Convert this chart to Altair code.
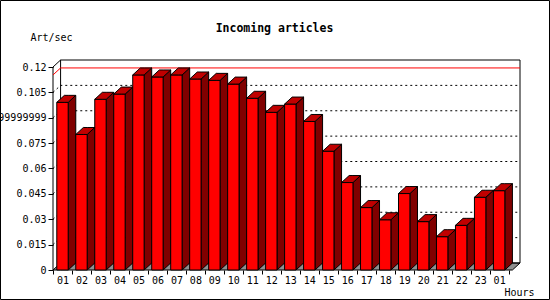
import altair as alt
import pandas as pd

# ---- data ----
hours = ["01", "02", "03", "04", "05", "06", "07", "08", "09", "10", "11", "12",
         "13", "14", "15", "16", "17", "18", "19", "20", "21", "22", "23", "01"]
values = [0.0991, 0.0801, 0.1009, 0.1040, 0.1153, 0.1141, 0.1153, 0.1129,
          0.1121, 0.1099, 0.1015, 0.0932, 0.0981, 0.0878, 0.0702, 0.0517,
          0.0369, 0.0297, 0.0452, 0.0286, 0.0197, 0.0264, 0.0430, 0.0469]
y_ticks = [0, 0.015, 0.03, 0.045, 0.06, 0.075, 0.09, 0.105, 0.12]
y_tick_labels = ["0", "0.015", "0.03", "0.045", "0.06", "0.075",
                 "0.08999999999", "0.105", "0.12"]
grid_values = [0.015, 0.03, 0.045, 0.06, 0.075, 0.09, 0.105]
chart_title = "Incoming articles"
x_title = "Hours"
y_title = "Art/sec"

# ---- 3D geometry (style) ----
n = len(values)
YMAX = 0.12
DX = 0.4                    # depth, in slot units
DY = YMAX * 7 / 203         # depth, in value units
X0, X1 = 0.2, 0.8           # front face inside its slot
FE = n + 0.2                # front end of floor
XEND = FE + DX
YTOP = YMAX + DY
FONT = "DejaVu Sans Mono"

xs = alt.Scale(domain=[0, XEND], nice=False, zero=False)
ys = alt.Scale(domain=[0, YTOP], nice=False, zero=False)

hours_js = "[" + ",".join("'%s'" % h for h in hours) + "]"
ylab_js = "[" + ",".join("'%s'" % s for s in y_tick_labels) + "]"

x_axis = alt.Axis(values=list(range(n + 1)), labelExpr=hours_js + "[datum.value] || ''",
                  labelOffset=9.5, tickSize=4, tickColor="black", labelPadding=1,
                  labelFont=FONT, labelFontSize=10, labelColor="black", labelAngle=0,
                  labelOverlap=False, labelFlush=False, labelBound=False,
                  domain=False, grid=False, title=x_title, titleFont=FONT,
                  titleFontSize=10, titleFontWeight="normal", titleColor="black",
                  titleAlign="left", titleBaseline="alphabetic", titleX=451, titleY=25,
                  titleAngle=0)
y_axis = alt.Axis(values=y_ticks, labelExpr=ylab_js + "[round(datum.value/0.015)]",
                  tickSize=5, tickColor="black", labelPadding=2,
                  labelFont=FONT, labelFontSize=10, labelColor="black",
                  labelOverlap=False, labelFlush=False, labelBound=False,
                  domain=False, grid=False, title=y_title, titleFont=FONT,
                  titleFontSize=10, titleFontWeight="normal", titleColor="black",
                  titleAngle=0, titleAlign="left", titleBaseline="alphabetic",
                  titleX=-23, titleY=-20)

def X(f="x"):
    return alt.X(f + ":Q", scale=xs, axis=x_axis)

def Y(f="y"):
    return alt.Y(f + ":Q", scale=ys, axis=y_axis)

# floor
floor_df = pd.DataFrame({"x": [0, DX, FE, FE + DX], "y": [0, 0, 0, DY], "y2": [0, DY, DY, DY]})
floor = alt.Chart(floor_df).mark_area(fill="#909090", stroke="black", strokeWidth=1).encode(
    x=X(), y=Y(), y2="y2:Q")

# grid lines (left wall diagonal + back wall)
grows = []
for g, v in enumerate(grid_values):
    grows += [{"g": g, "o": 0, "x": 0, "y": v}, {"g": g, "o": 1, "x": DX, "y": v + DY},
              {"g": g, "o": 2, "x": XEND, "y": v + DY}]
grid = alt.Chart(pd.DataFrame(grows)).mark_line(color="black", strokeWidth=1,
                                                strokeDash=[2, 3]).encode(
    x=X(), y=Y(), detail="g:N", order="o:Q")

# back wall frame
back_df = pd.DataFrame({"x": [DX], "x2": [XEND], "y": [DY], "y2": [YTOP]})
back = alt.Chart(back_df).mark_rect(fillOpacity=0, stroke="black", strokeWidth=1).encode(
    x=X(), x2="x2:Q", y=Y(), y2="y2:Q")

# left wall front axis line
wall_df = pd.DataFrame({"o": [0, 1, 2], "x": [0, 0, DX], "y": [0, YMAX, YTOP]})
wall = alt.Chart(wall_df).mark_line(color="black", strokeWidth=1).encode(
    x=X(), y=Y(), order="o:Q")

# max line
vmax = max(values)
max_df = pd.DataFrame({"o": [0, 1, 2], "x": [0, DX, XEND], "y": [vmax, vmax + DY, vmax + DY]})
maxline = alt.Chart(max_df).mark_line(color="#ff0000", strokeWidth=1).encode(
    x=X(), y=Y(), order="o:Q")

# bars
front_rows, side_rows, top_rows = [], [], []
for i, (h, v) in enumerate(zip(hours, values)):
    x0, x1 = i + X0, i + X1
    front_rows.append({"b": i, "hour": h, "x": x0, "x2": x1, "y": 0, "y2": v})
    side_rows += [{"b": i, "x": x1, "y": 0, "y2": v},
                  {"b": i, "x": x1 + DX, "y": DY, "y2": v + DY}]
    top_rows += [{"b": i, "x": x0, "y": v, "y2": v},
                 {"b": i, "x": x0 + DX, "y": v, "y2": v + DY},
                 {"b": i, "x": x1, "y": v, "y2": v + DY},
                 {"b": i, "x": x1 + DX, "y": v + DY, "y2": v + DY}]

side = alt.Chart(pd.DataFrame(side_rows)).mark_area(fill="#800000", stroke="black",
                                                    strokeWidth=1).encode(
    x=X(), y=Y(), y2="y2:Q", detail="b:N")
front = alt.Chart(pd.DataFrame(front_rows)).mark_rect(fill="#ff0000", stroke="black",
                                                      strokeWidth=1).encode(
    x=X(), x2="x2:Q", y=Y(), y2="y2:Q")
top = alt.Chart(pd.DataFrame(top_rows)).mark_area(fill="#c00000", stroke="black",
                                                  strokeWidth=1).encode(
    x=X(), y=Y(), y2="y2:Q", detail="b:N")

# outer image border
border = alt.Chart(pd.DataFrame({"a": [0]})).mark_rect(
    fillOpacity=0, stroke="black", strokeWidth=1).encode(
    x=alt.value(-52.5), x2=alt.value(496.5), y=alt.value(-59.5), y2=alt.value(239.5))

chart = alt.layer(floor, grid, back, wall, maxline, side, front, top, border).properties(
    width=467, height=210,
    autosize=alt.AutoSizeParams(type="none"),
    padding={"left": 53, "top": 60, "right": 30, "bottom": 30},
    background="white",
    title=alt.TitleParams(chart_title, font=FONT, fontSize=11.5, fontWeight="bold",
                          color="black", anchor="middle", dx=-12, offset=-43,
                          baseline="alphabetic"),
).configure_view(stroke=None)

chart.save("out.html", embed_options={"renderer": "svg", "actions": False})
